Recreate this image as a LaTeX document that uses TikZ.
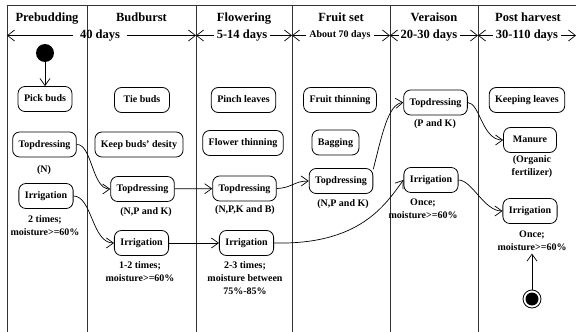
\documentclass[tikz,border=0pt]{standalone}
\usepackage{fontspec}
\setmainfont{Liberation Serif}
\usetikzlibrary{arrows.meta}

\begin{document}
\begin{tikzpicture}[x=1pt,y=-1pt,
  lane/.style={line width=1pt, draw=black!80},
  title/.style={font=\fontsize{12.5}{15}\selectfont\bfseries, anchor=base},
  span/.style={font=\fontsize{12.5}{15}\selectfont\bfseries, inner xsep=3pt, inner ysep=0pt},
  spanarr/.style={-{Straight Barb[length=7pt,width=11pt]}, line width=0.7pt},
  act/.style={draw, rounded corners=7pt, line width=0.8pt, font=\fontsize{10}{12}\selectfont\bfseries,
    inner xsep=6pt, minimum height=25pt, text height=7pt, text depth=2pt},
  note/.style={font=\fontsize{10}{13}\selectfont\bfseries, align=center, inner sep=0pt},
  flow/.style={-{Straight Barb[length=7pt,width=10pt]}, line width=0.7pt},
]
\useasboundingbox (0,0) rectangle (576,332);

% swimlane frame
\draw[lane] (7,332) -- (7,5) -- (576,5);
\foreach \x in {87,196,292,390,478} \draw[lane] (\x,5) -- (\x,332);

% lane titles
\node[title] (tPre)   at (47,21)  {Prebudding};
\node[title] (tBud)   at (141.5,21) {Budburst};
\node[title] (tFlow)  at (244,21) {Flowering};
\node[title] (tFruit) at (341,21) {Fruit set};
\node[title] (tVer)   at (434,21) {Veraison};
\node[title] (tPost)  at (528,21) {Post harvest};

% durations
\coordinate (b0) at (7,35.5);
\coordinate (b2) at (196,35.5);
\coordinate (b3) at (292,35.5);
\coordinate (b4) at (390,35.5);
\coordinate (b5) at (478,35.5);
\coordinate (b6) at (576,35.5);
\node[span, inner xsep=7pt] (d1) at (100,35.5) {40 days};
\node[span] (d2) at (242,35.5) {5-14 days};
\node[span, font=\fontsize{10}{12}\selectfont\bfseries] (d3) at (340,35.5) {About 70 days};
\node[span, inner xsep=2pt] (d4) at (429,35.5) {20-30 days};
\node[span] (d5) at (527,35.5) {30-110 days};
\draw[spanarr] (d1.west) -- (b0);
\draw[spanarr] (d1.east) -- (b2);
\draw[spanarr] (d2.west) -- (b2);
\draw[spanarr] (d2.east) -- (b3);
\draw[spanarr] (d3.west) -- (b3);
\draw[spanarr] (d3.east) -- (b4);
\draw[spanarr] (d4.west) -- (b4);
\draw[spanarr] (d4.east) -- (b5);
\draw[spanarr] (d5.west) -- (b5);
\draw[spanarr] (d5.east) -- (b6);

% initial and final states
\node[circle, fill=black, minimum size=18pt, inner sep=0pt] (start) at (45,53) {};
\node[circle, draw, line width=0.8pt, minimum size=18pt, inner sep=0pt,
  path picture={\fill[black] (path picture bounding box.center) circle (6.5pt);}] (stop) at (532,299) {};

% activities
\node[act] (pick)   at (45,99)     {Pick buds};
\node[act, minimum width=55pt] (tie) at (142,100) {Tie buds};
\node[act] (pinch)  at (243.5,100) {Pinch leaves};
\node[act] (fthin)  at (340,100)   {Fruit thinning};
\node[act] (tdVer)  at (435.5,102.5) {Topdressing};
\node[act] (keep)   at (527,100)   {Keeping leaves};

\node[act] (tdPre)  at (44.5,144.5) {Topdressing};
\node[act] (kbd)    at (139,144.5)  {Keep buds' desity};
\node[act] (flthin) at (243,143)    {Flower thinning};
\node[act] (bag)    at (335.5,142.5) {Bagging};
\node[act, minimum width=53pt] (manure) at (530,140) {Manure};

\node[act] (irrPre)  at (46,196)    {Irrigation};
\node[act] (tdBud)   at (142.5,189) {Topdressing};
\node[act] (tdFlow)  at (244.5,188.5) {Topdressing};
\node[act] (tdFruit) at (341,181)   {Topdressing};
\node[act] (irrVer)  at (431,180)   {Irrigation};
\node[act] (irrPost) at (530,211)   {Irrigation};

\node[act] (irrBud)  at (141.5,243) {Irrigation};
\node[act] (irrFlow) at (246.5,243) {Irrigation};

% notes under activities
\node[note] (nTdPre)   at (44,170)   {(N)};
\node[note] (nIrrPre)  at (45,226)   {2 times;\\moisture>=60\%};
\node[note] (nTdBud)   at (146,212)  {(N,P and K)};
\node[note] (nTdFlow)  at (245,210)  {(N,P,K and B)};
\node[note] (nTdFruit) at (343,204)  {(N,P and K)};
\node[note] (nTdVer)   at (435,124)  {(P and K)};
\node[note] (nIrrVer)  at (423,209)  {Once;\\moisture>=60\%};
\node[note] (nManure)  at (532,166.5) {(Organic\\fertilizer)};
\node[note] (nIrrBud)  at (140,271.5) {1-2 times;\\moisture>=60\%};
\node[note] (nIrrFlow) at (245,278)  {2-3 times;\\moisture between\\75\%-85\%};
\node[note] (nIrrPost) at (532,241)  {Once;\\moisture>=60\%};

% transitions
\draw[flow] (start) -- (pick);
\draw[flow] (tdPre.east) .. controls (92,144) and (92,189) .. (tdBud.west);
\draw[flow] (irrPre.east) .. controls (92,196) and (92,243) .. (irrBud.west);
\draw[flow] (tdBud) -- (tdFlow);
\draw[flow] (irrBud) -- (irrFlow);
\draw[flow] (tdFlow.east) .. controls (292,188) and (294,181) .. (tdFruit.west);
\draw[flow] (irrFlow.east) .. controls (360,245) and (385,205) .. (irrVer.west);
\draw[flow] (tdFruit.20) .. controls (382,135) and (388,104) .. (tdVer.west);
\draw[flow] (tdVer.east) .. controls (480,103) and (482,140) .. (manure.west);
\draw[flow] (irrVer.east) .. controls (472,180) and (484,211) .. (irrPost.west);
\draw[flow, shorten >=2.5pt] (stop) -- (nIrrPost.south);
\end{tikzpicture}
\end{document}
